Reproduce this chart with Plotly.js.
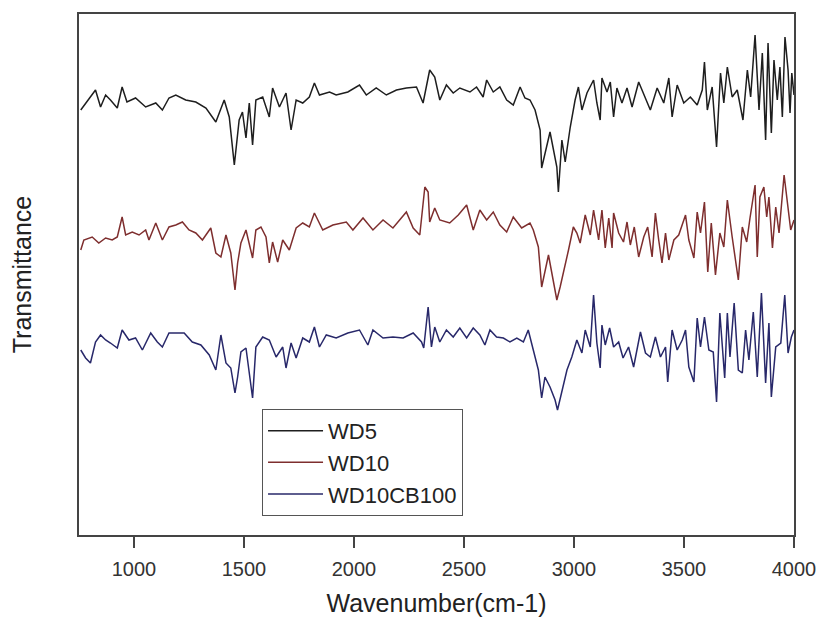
<!DOCTYPE html>
<html>
<head>
<meta charset="utf-8">
<script src="https://cdn.plot.ly/plotly-3.0.1.min.js"></script>
<style>html,body{margin:0;padding:0;background:#fff;}#chart{width:819px;height:617px;}</style>
</head>
<body>
<div id="chart"></div>
<script>
// WD5 (black)
const wd5X = [758,780,825,848,871,893,924,946,968,1007,1053,1099,1129,1159,1190,1235,1281,1327,1372,1410,1433,1456,1478,1493,1509,1524,1539,1554,1585,1615,1630,1661,1691,1714,1737,1767,1797,1820,1843,1889,1919,1972,2025,2056,2101,2147,2193,2238,2284,2314,2344,2367,2390,2420,2451,2481,2527,2557,2587,2603,2633,2663,2694,2724,2755,2777,2800,2823,2846,2853,2891,2922,2929,2945,2960,2983,3005,3020,3036,3059,3089,3104,3119,3127,3150,3165,3180,3195,3218,3241,3264,3294,3317,3347,3378,3408,3431,3446,3469,3499,3529,3560,3583,3593,3606,3628,3648,3666,3681,3697,3719,3742,3768,3788,3803,3823,3841,3856,3871,3882,3897,3909,3924,3936,3947,3959,3973,3982,3990,4000];
const wd5Y = [425,432,445,428,440,435,427,448,433,437,428,432,425,437,440,435,433,427,413,435,418,370,415,423,397,432,390,435,438,418,447,428,442,405,435,432,438,452,440,443,440,443,450,440,447,440,445,447,448,432,465,458,435,450,442,447,443,448,438,455,443,448,435,430,448,437,435,425,405,367,403,368,343,395,373,408,435,448,425,442,455,432,415,457,443,453,418,447,432,447,428,453,440,425,447,432,457,418,450,432,438,430,445,473,425,448,388,462,432,468,438,445,415,465,438,500,425,482,395,492,402,475,435,468,418,498,465,422,462,440];

// WD10 (red)
const wd10X = [758,772,810,840,871,901,924,946,962,992,1023,1053,1068,1099,1129,1159,1190,1220,1250,1281,1311,1349,1372,1395,1418,1440,1459,1471,1486,1509,1539,1554,1577,1600,1615,1630,1653,1676,1706,1737,1767,1797,1820,1858,1904,1965,1995,2041,2086,2132,2177,2238,2269,2299,2322,2337,2344,2367,2390,2435,2474,2512,2542,2572,2603,2633,2663,2694,2724,2762,2800,2815,2838,2853,2884,2899,2922,2937,2952,2975,2997,3013,3028,3051,3074,3089,3112,3127,3142,3158,3173,3180,3203,3225,3241,3256,3274,3294,3317,3335,3355,3370,3385,3400,3416,3431,3454,3476,3507,3522,3545,3560,3575,3593,3608,3624,3643,3663,3681,3697,3719,3747,3765,3785,3800,3823,3833,3845,3863,3876,3886,3902,3917,3932,3955,3970,3985,4000];
const wd10Y = [285,295,298,292,297,295,298,318,300,303,300,305,295,312,295,308,310,313,305,302,295,307,282,278,300,282,245,272,292,305,277,305,308,298,272,293,273,295,285,307,312,308,322,305,310,313,305,317,305,315,307,323,307,300,348,343,313,327,315,312,320,330,305,325,315,323,310,303,318,307,312,305,288,248,280,262,235,248,262,285,308,302,292,320,300,325,295,325,287,317,287,322,302,293,313,290,308,278,298,308,278,322,295,272,302,275,295,300,320,295,277,323,302,333,263,312,260,302,288,335,298,255,308,293,317,350,278,338,348,318,338,287,328,302,360,332,305,315];

// WD10CB100 (blue)
const wdcbX = [758,780,802,825,848,871,893,924,946,977,1007,1038,1076,1106,1129,1159,1190,1228,1265,1304,1342,1372,1395,1418,1440,1459,1471,1486,1509,1539,1554,1585,1615,1646,1676,1691,1714,1737,1767,1797,1820,1843,1874,1919,1972,2025,2063,2086,2132,2177,2223,2269,2307,2317,2337,2352,2367,2390,2420,2451,2481,2512,2542,2572,2595,2618,2648,2679,2709,2740,2770,2792,2815,2838,2853,2868,2891,2914,2925,2945,2968,2990,3013,3036,3051,3074,3089,3104,3119,3127,3142,3162,3180,3203,3223,3248,3271,3302,3325,3347,3370,3393,3416,3426,3446,3469,3492,3507,3522,3545,3560,3575,3593,3613,3633,3648,3663,3685,3697,3709,3728,3747,3765,3780,3795,3815,3833,3852,3871,3886,3897,3917,3940,3958,3973,3988,4000];
const wdcbY = [185,177,172,193,200,195,192,187,205,195,197,185,202,193,188,202,202,202,193,190,180,165,200,172,167,142,158,183,187,137,188,198,195,178,188,167,192,177,197,193,208,188,200,197,202,205,190,205,197,198,197,202,193,187,228,188,208,193,205,198,207,197,207,200,190,205,198,197,193,197,193,205,185,165,137,158,148,135,125,143,165,178,195,182,205,188,240,192,167,210,190,207,188,193,177,188,168,203,182,178,198,178,188,153,205,185,195,205,168,153,217,188,218,185,183,133,222,157,222,178,232,165,162,205,175,223,158,242,152,212,138,188,192,240,182,198,205];

const seriesNames = ["WD5", "WD10", "WD10CB100"];
const xTickVals = [1000,1500,2000,2500,3000,3500,4000];

const traces = [
  {x: wd5X, y: wd5Y, name: seriesNames[0], mode: "lines", line: {color: "#1e1e1e", width: 1.5}},
  {x: wd10X, y: wd10Y, name: seriesNames[1], mode: "lines", line: {color: "#7e2e2e", width: 1.5}},
  {x: wdcbX, y: wdcbY, name: seriesNames[2], mode: "lines", line: {color: "#28286a", width: 1.5}}
];

const layout = {
  width: 819, height: 617,
  margin: {l: 79, r: 25, t: 14, b: 82},
  paper_bgcolor: "#fff", plot_bgcolor: "#fff",
  font: {family: "Liberation Sans, Arial, sans-serif", color: "#2a2a2a"},
  showlegend: true,
  legend: {
    x: 0.256, y: 0.242, xanchor: "left", yanchor: "top",
    bordercolor: "#555", borderwidth: 1, bgcolor: "#fff",
    font: {size: 22, color: "#222"}, itemwidth: 55, tracegroupgap: 0
  },
  xaxis: {
    range: [750, 4000], tickvals: xTickVals, ticktext: xTickVals.map(String),
    ticks: "outside", ticklen: 11, tickwidth: 1.5, tickcolor: "#444",
    ticklabelstandoff: 4,
    showline: true, linecolor: "#444", linewidth: 2, mirror: true,
    showgrid: false, zeroline: false,
    tickfont: {size: 20, color: "#333"},
    title: {text: "Wavenumber(cm-1)", font: {size: 25, color: "#222"}, standoff: 16}
  },
  yaxis: {
    range: [0, 521], showticklabels: false, ticks: "",
    showline: true, linecolor: "#444", linewidth: 2, mirror: true,
    showgrid: false, zeroline: false,
    title: {text: "Transmittance", font: {size: 25, color: "#222"}, standoff: 38}
  }
};

Plotly.newPlot("chart", traces, layout, {displayModeBar: false, staticPlot: true});
</script>
</body>
</html>
